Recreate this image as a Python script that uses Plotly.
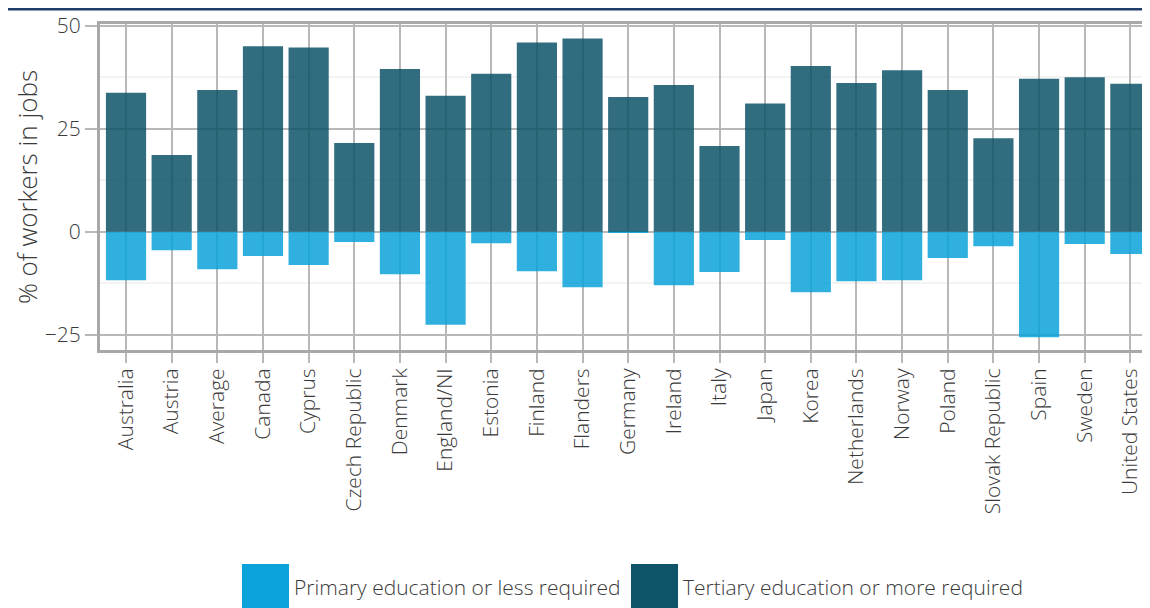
import plotly.graph_objects as go

countries = ["Australia", "Austria", "Average", "Canada", "Cyprus", "Czech Republic",
             "Denmark", "England/NI", "Estonia", "Finland", "Flanders", "Germany",
             "Ireland", "Italy", "Japan", "Korea", "Netherlands", "Norway", "Poland",
             "Slovak Republic", "Spain", "Sweden", "United States"]

tertiary = [33.7, 18.6, 34.4, 45.0, 44.7, 21.5, 39.5, 33.0, 38.3, 45.9, 46.9, 32.7,
            35.6, 20.8, 31.1, 40.2, 36.1, 39.2, 34.4, 22.7, 37.1, 37.5, 35.9]

primary = [-11.8, -4.5, -9.1, -5.9, -8.1, -2.5, -10.3, -22.6, -2.8, -9.6, -13.5, -0.1,
           -13.0, -9.8, -2.0, -14.7, -12.0, -11.8, -6.4, -3.5, -25.6, -3.0, -5.4]

series_names = ["Primary education or less required", "Tertiary education or more required"]
series_colors = ["#0ba3da", "#0e5468"]

font_family = "Open Sans"
text_color = "#3a3a3a"
grid_color = "#b8b8b8"

fig = go.Figure()
fig.add_trace(go.Bar(name=series_names[0], x=countries, y=primary,
                     marker=dict(color=series_colors[0], line=dict(width=0)),
                     opacity=0.85, width=0.88))
fig.add_trace(go.Bar(name=series_names[1], x=countries, y=tertiary,
                     marker=dict(color=series_colors[1], line=dict(width=0)),
                     opacity=0.85, width=0.88))

fig.update_layout(
    width=1150, height=608,
    barmode="relative",
    showlegend=False,
    plot_bgcolor="white", paper_bgcolor="white",
    margin=dict(l=92, r=8, t=16, b=266),
    font=dict(family=font_family, color=text_color, size=20, weight=300),
)

fig.update_xaxes(
    automargin=False,
    range=[-0.57, 22.43],
    tickangle=-90,
    tickfont=dict(size=21, color=text_color, weight=300),
    ticklabelstandoff=-3,
    showgrid=True, gridcolor=grid_color, gridwidth=2,
    ticks="outside", ticklen=10, tickwidth=2, tickcolor=grid_color,
    showline=True, linecolor="#a8a8a8", linewidth=3, mirror=True,
)
fig.update_yaxes(
    automargin=False,
    range=[-28.7, 50.4],
    tickvals=[-25, 0, 25, 50],
    ticktext=["\u221225", "0", "25", "50"],
    tickfont=dict(size=21, color=text_color, weight=300),
    showgrid=True, gridcolor=grid_color, gridwidth=2,
    zeroline=True, zerolinecolor=grid_color, zerolinewidth=2,
    minor=dict(tickvals=[-12.5, 12.5, 37.5], showgrid=True, gridcolor="#f3f3f3", gridwidth=2),
    ticks="outside", ticklen=12, tickwidth=2, tickcolor=grid_color,
    showline=True, linecolor="#a8a8a8", linewidth=3,
    title=dict(text="% of workers in jobs", font=dict(size=26, color=text_color, weight=300), standoff=0),
)

# navy rule across the very top
fig.add_shape(type="line", xref="paper", yref="paper",
              x0=-0.2, x1=1.1, y0=1.046, y1=1.046,
              line=dict(color="#1f3d6b", width=3))

# hand-made legend with large square keys
keys = [(0.1352, 0.1800), (0.5057, 0.5505)]
for (kx0, kx1), name, color in zip(keys, series_names, series_colors):
    fig.add_shape(type="rect", xref="paper", yref="paper",
                  x0=kx0, x1=kx1, y0=-0.80, y1=-0.6564,
                  fillcolor=color, line=dict(width=0))
    fig.add_annotation(xref="paper", yref="paper", x=kx1 + 0.0033, y=-0.727,
                       text=name, showarrow=False, xanchor="left", yanchor="middle",
                       font=dict(size=21, color=text_color, weight=300))

fig.write_html("out.html")
